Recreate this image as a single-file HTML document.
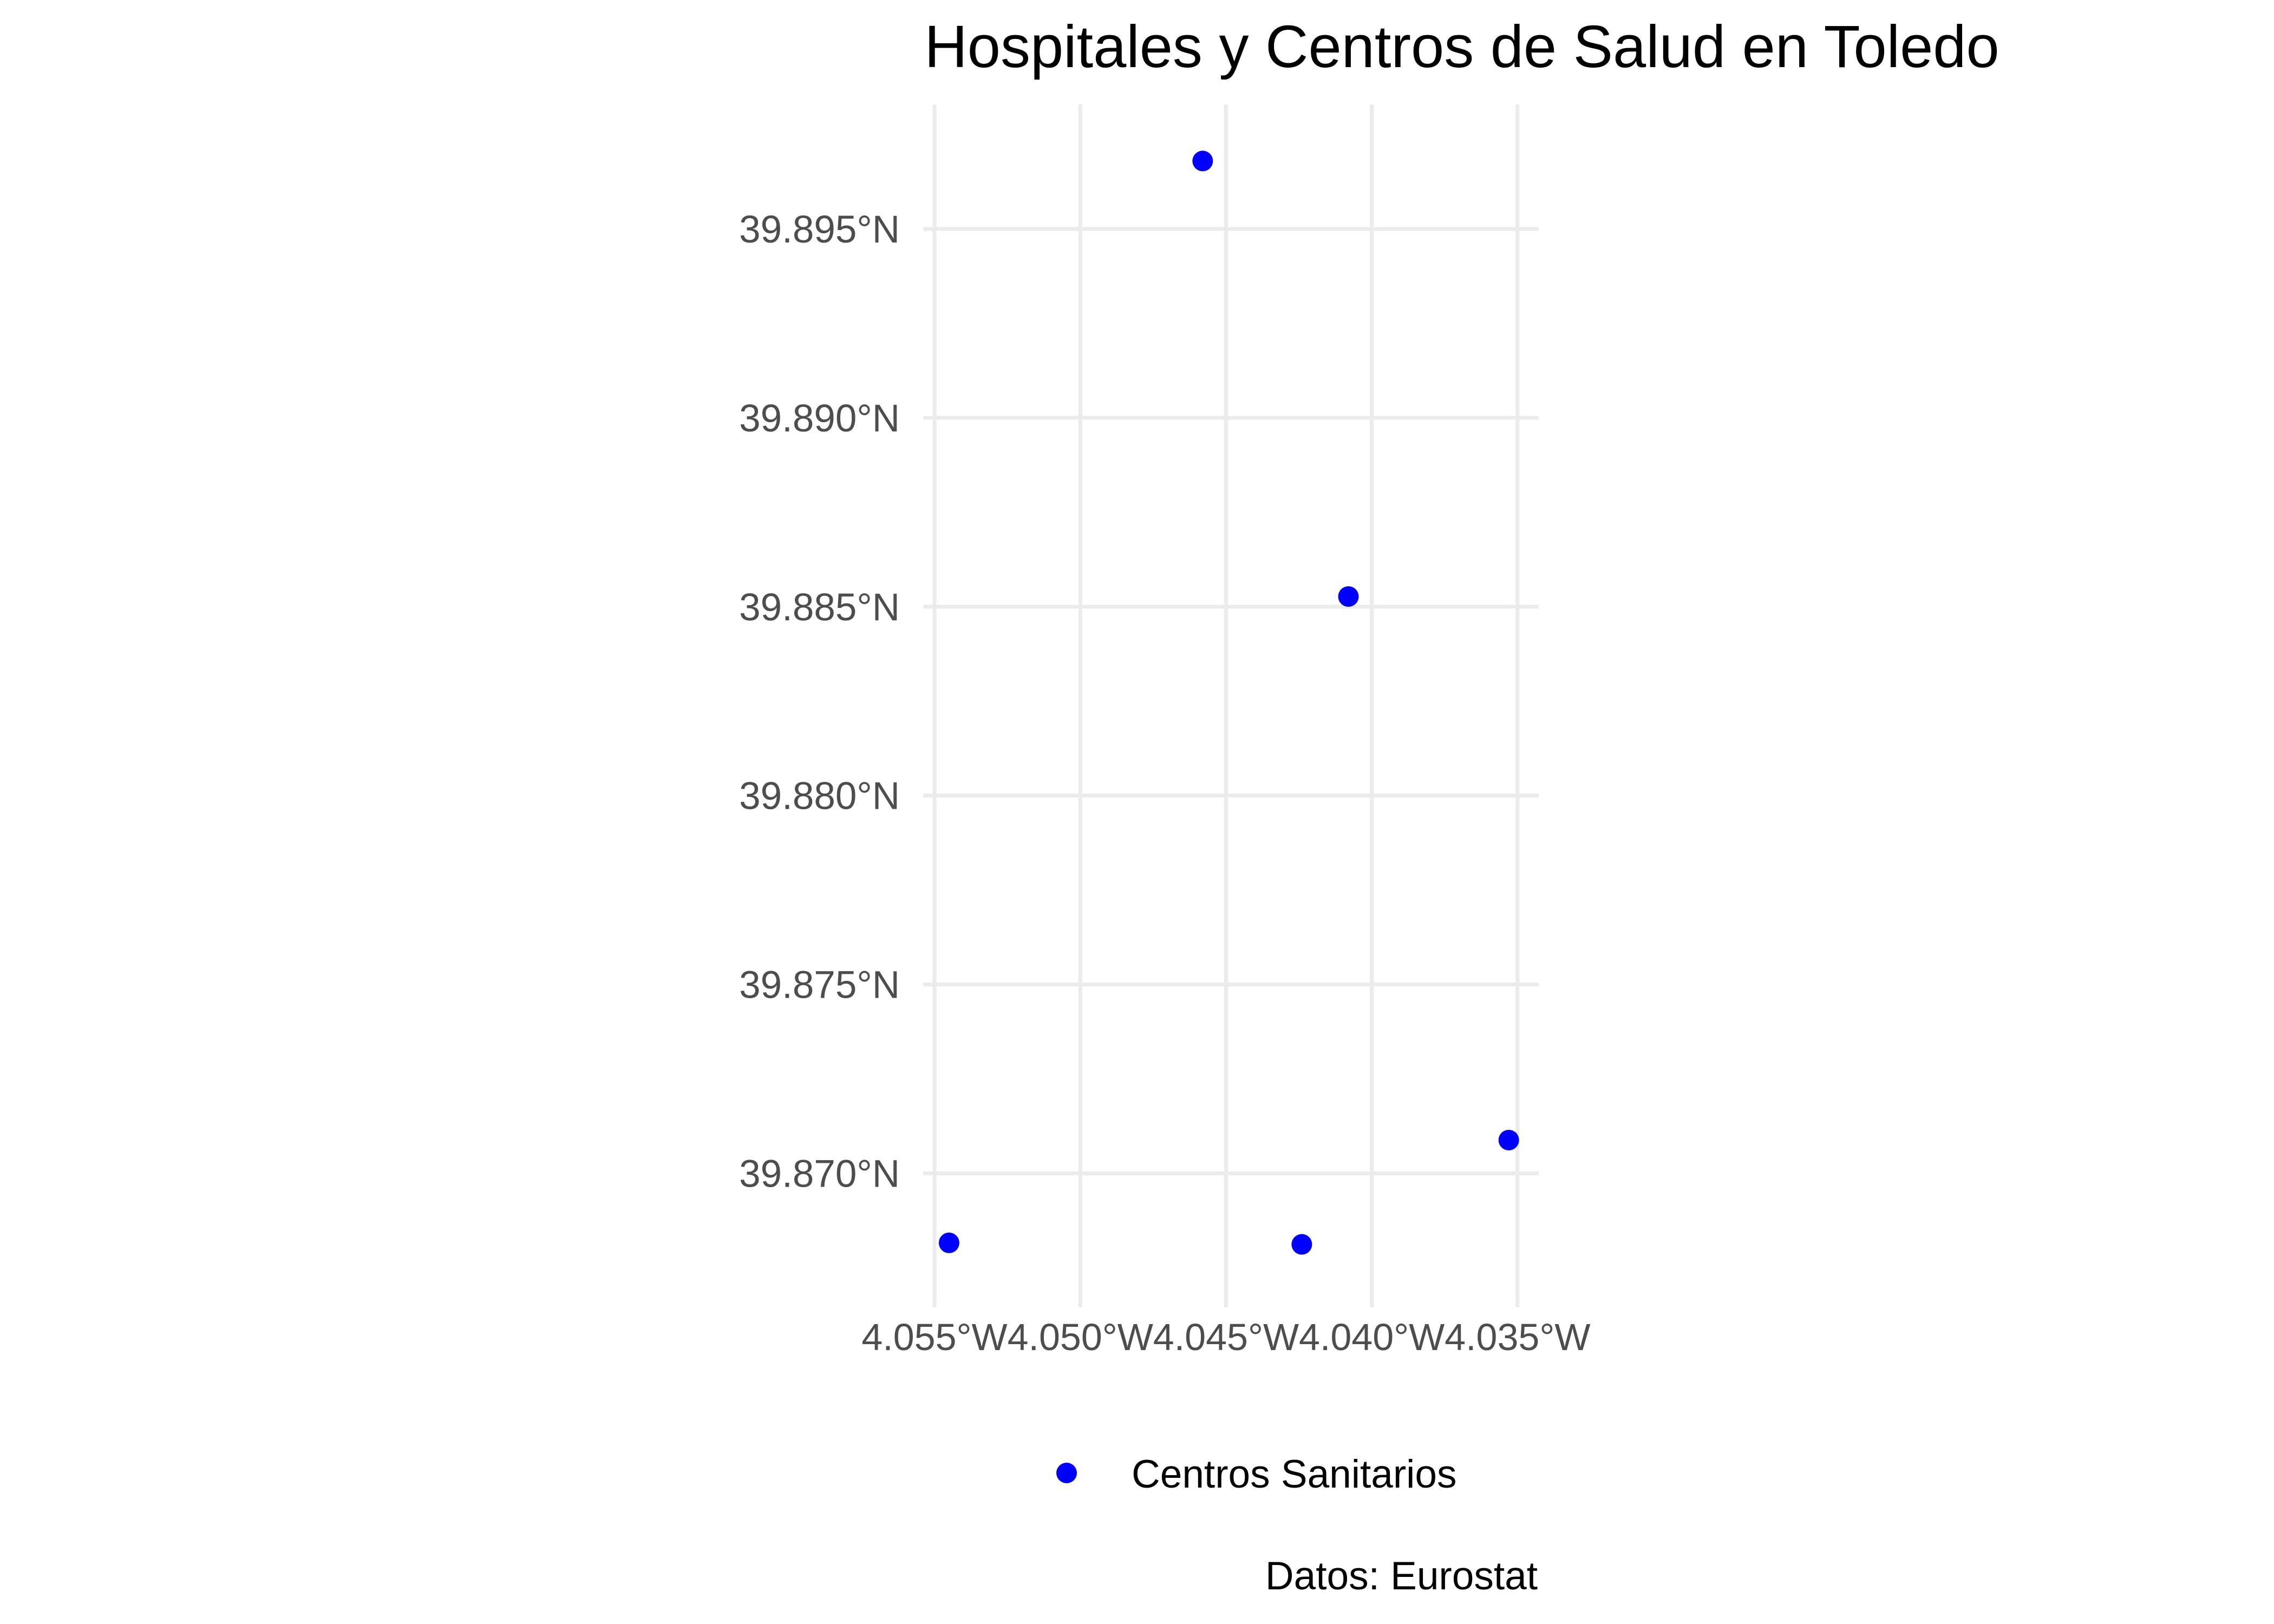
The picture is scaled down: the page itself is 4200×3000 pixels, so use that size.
<!DOCTYPE html>
<html><head><meta charset="utf-8"><style>
html,body{margin:0;padding:0;background:#fff;}
svg{display:block;font-family:"Liberation Sans",sans-serif;}
</style></head><body>
<svg id="chart" width="4200" height="3000" viewBox="0 0 4200 3000">
<text x="2700" y="124" font-size="110" text-anchor="middle" fill="#000">Hospitales y Centros de Salud en Toledo</text>
<g id="grid"></g>
<g id="ylabels"></g>
<g id="xlabels"></g>
<g id="points"></g>
<g>
<circle cx="1970" cy="2721" r="19" fill="#0000ff"></circle>
<text x="2090" y="2748" font-size="73" fill="#000">Centros Sanitarios</text>
</g>
<text x="2840" y="2936" font-size="73" text-anchor="end" fill="#000">Datos: Eurostat</text>
</svg>
<script>
const lonTicks=[-4.055,-4.050,-4.045,-4.040,-4.035];
const lonTickLabels=["4.055°W","4.050°W","4.045°W","4.040°W","4.035°W"];
const latTicks=[39.895,39.890,39.885,39.880,39.875,39.870];
const latTickLabels=["39.895°N","39.890°N","39.885°N","39.880°N","39.875°N","39.870°N"];
const pointLon=[-4.0458,-4.0408,-4.0353,-4.0545,-4.0424];
const pointLat=[39.8968,39.88527,39.87088,39.86816,39.86812];

const NS="http://www.w3.org/2000/svg";
function xs(v){return 1726+(v+4.055)/0.005*269.2;}
function ys(v){return 423+(39.895-v)/0.005*348.9;}
const grid=document.getElementById('grid');
const xl=document.getElementById('xlabels');
const yl=document.getElementById('ylabels');
const pts=document.getElementById('points');
function mk(t,a){const e=document.createElementNS(NS,t);for(const k in a)e.setAttribute(k,a[k]);return e;}
lonTicks.forEach((v,i)=>{
  const l=mk('line',{x1:xs(v),x2:xs(v),y1:193,y2:2415,stroke:'#ebebeb','stroke-width':7});
  
  
  grid.appendChild(l);
  const t=mk('text',{x:xs(v),y:2494,'font-size':70,'text-anchor':'middle',fill:'#4d4d4d'});
  t.textContent=lonTickLabels[i];
  
  
  xl.appendChild(t);
});
latTicks.forEach((v,i)=>{
  const l=mk('line',{x1:1705,x2:2842,y1:ys(v),y2:ys(v),stroke:'#ebebeb','stroke-width':7});
  
  
  grid.appendChild(l);
  const t=mk('text',{x:1662,y:ys(v)+25,'font-size':71,'text-anchor':'end',fill:'#4d4d4d'});
  t.textContent=latTickLabels[i];
  
  
  yl.appendChild(t);
});
pointLon.forEach((v,i)=>{
  const c=mk('circle',{cx:xs(v),cy:ys(pointLat[i]),r:19,fill:'#0000ff'});
  
  
  pts.appendChild(c);
});
</script>
</body></html>
